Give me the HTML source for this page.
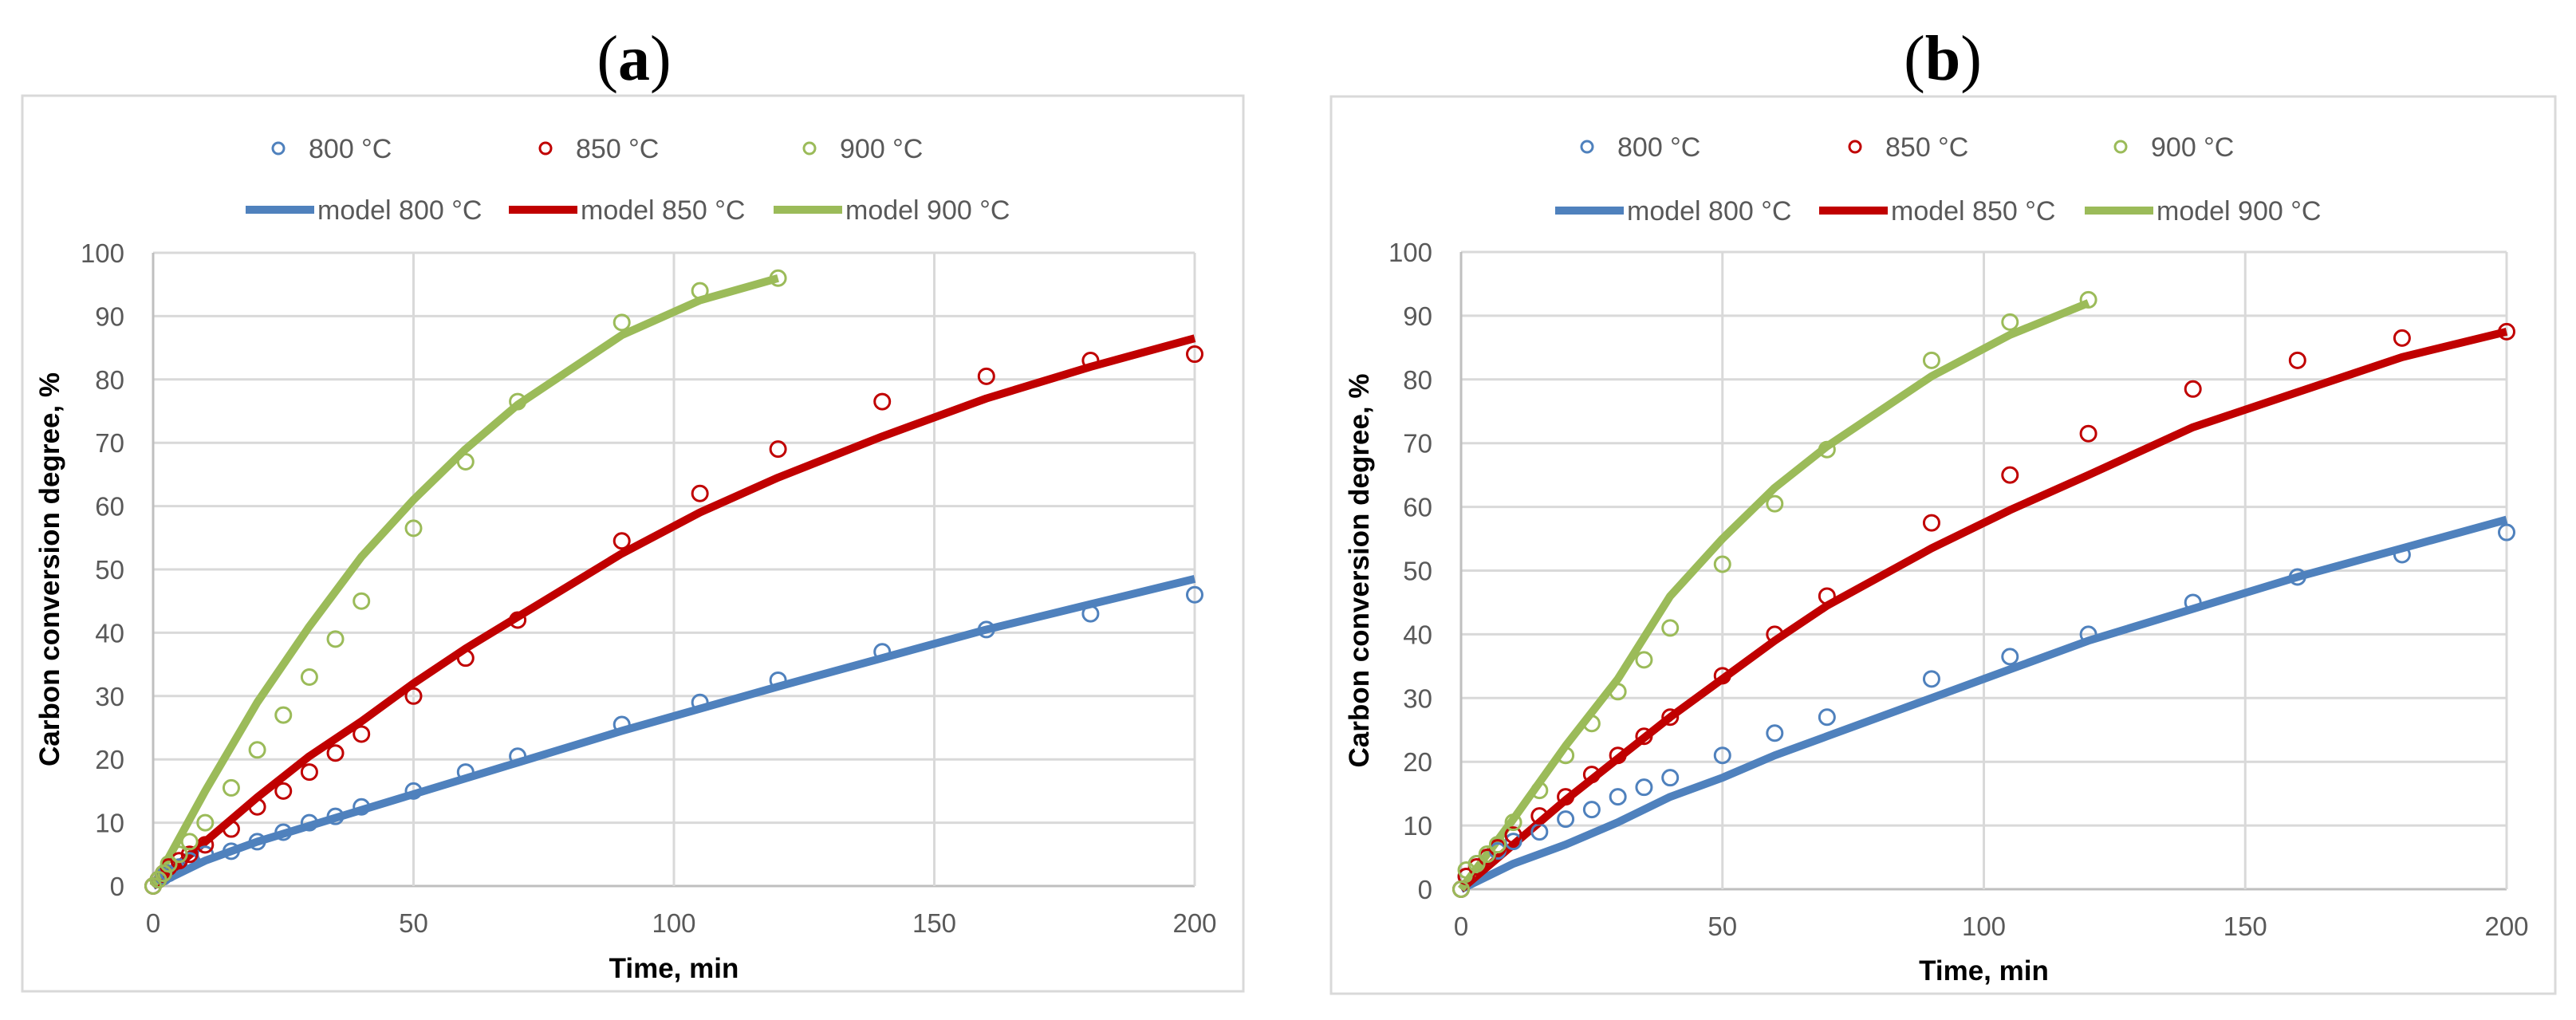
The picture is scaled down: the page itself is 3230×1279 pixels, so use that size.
<!DOCTYPE html>
<html><head><meta charset="utf-8"><style>
html,body{margin:0;padding:0;background:#fff;}
svg{display:block;}
text{font-family:"Liberation Sans",sans-serif;}
</style></head>
<body>
<svg id="chart" width="3230" height="1279" viewBox="0 0 3230 1279" xmlns="http://www.w3.org/2000/svg"></svg>
<script>
const xTicks = [0, 50, 100, 150, 200];
const yTicks = [0, 10, 20, 30, 40, 50, 60, 70, 80, 90, 100];
const seriesNames = ["800", "850", "900"];

// Panel (a) data
const aT800 = [0, 1, 2, 3, 5, 7, 10, 15, 20, 25, 30, 35, 40, 50, 60, 70, 90, 105, 120, 140, 160, 180, 200];
const aY800 = [0, 1, 1.5, 2, 3, 4, 5, 5.5, 7, 8.5, 10, 11, 12.5, 15, 18, 20.5, 25.5, 29, 32.5, 37, 40.5, 43, 46];
const aT850 = [0, 1, 2, 3, 5, 7, 10, 15, 20, 25, 30, 35, 40, 50, 60, 70, 90, 105, 120, 140, 160, 180, 200];
const aY850 = [0, 1, 2, 3, 4, 5, 6.5, 9, 12.5, 15, 18, 21, 24, 30, 36, 42, 54.5, 62, 69, 76.5, 80.5, 83, 84];
const aT900 = [0, 1, 2, 3, 5, 7, 10, 15, 20, 25, 30, 35, 40, 50, 60, 70, 90, 105, 120];
const aY900 = [0, 1, 2, 3.5, 5, 7, 10, 15.5, 21.5, 27, 33, 39, 45, 56.5, 67, 76.5, 89, 94, 96];
const aMT800 = [0, 5, 10, 20, 30, 40, 50, 60, 70, 90, 105, 120, 140, 160, 180, 200];
const aMY800 = [0, 2, 4, 7, 9.5, 12, 14.5, 17, 19.5, 24.5, 28, 31.5, 36, 40.5, 44.5, 48.5];
const aMT850 = [0, 5, 10, 20, 30, 40, 50, 60, 70, 90, 105, 120, 140, 160, 180, 200];
const aMY850 = [0, 3.5, 7, 14, 20.5, 26, 32, 37.5, 42.5, 52.5, 59, 64.5, 71, 77, 82, 86.5];
const aMT900 = [0, 5, 10, 20, 30, 40, 50, 60, 70, 90, 105, 120];
const aMY900 = [0, 7.5, 15, 29, 41, 52, 61, 69, 76, 87, 92.5, 96];

// Panel (b) data
const bT800 = [0, 1, 3, 5, 7, 10, 15, 20, 25, 30, 35, 40, 50, 60, 70, 90, 105, 120, 140, 160, 180, 200];
const bY800 = [0, 2, 4, 5, 6, 7.5, 9, 11, 12.5, 14.5, 16, 17.5, 21, 24.5, 27, 33, 36.5, 40, 45, 49, 52.5, 56];
const bT850 = [0, 1, 3, 5, 7, 10, 15, 20, 25, 30, 35, 40, 50, 60, 70, 90, 105, 120, 140, 160, 180, 200];
const bY850 = [0, 2, 3.5, 5, 6.5, 8.5, 11.5, 14.5, 18, 21, 24, 27, 33.5, 40, 46, 57.5, 65, 71.5, 78.5, 83, 86.5, 87.5];
const bT900 = [0, 1, 3, 5, 7, 10, 15, 20, 25, 30, 35, 40, 50, 60, 70, 90, 105, 120];
const bY900 = [0, 3, 4, 5.5, 7, 10.5, 15.5, 21, 26, 31, 36, 41, 51, 60.5, 69, 83, 89, 92.5];
const bMT800 = [0, 5, 10, 20, 30, 40, 50, 60, 70, 90, 105, 120, 140, 160, 180, 200];
const bMY800 = [0, 2, 4, 7, 10.5, 14.5, 17.5, 21, 24, 30, 34.5, 39, 44, 49, 53.5, 58];
const bMT850 = [0, 5, 10, 20, 30, 40, 50, 60, 70, 90, 105, 120, 140, 160, 180, 200];
const bMY850 = [0, 3.5, 7, 14, 20.5, 27, 33, 39, 44.5, 53.5, 59.5, 65, 72.5, 78, 83.5, 87.5];
const bMT900 = [0, 5, 10, 20, 30, 40, 50, 60, 70, 90, 105, 120];
const bMY900 = [0, 5.5, 11, 22.5, 33, 46, 55, 63, 69.5, 80.5, 87, 92];

const colors = ["#4F81BD", "#C00000", "#9BBB59"];
const NS = "http://www.w3.org/2000/svg";
const svg = document.getElementById("chart");

function mk(tag, attrs, parent, txt) {
  const e = document.createElementNS(NS, tag);
  for (const k in attrs) e.setAttribute(k, attrs[k]);
  if (txt !== undefined) e.textContent = txt;
  (parent || svg).appendChild(e);
  return e;
}

function panel(cfg, data) {
  const g = mk("g", {});
  
  
  const xs = v => cfg.x0 + (cfg.x1 - cfg.x0) * v / 200;
  const ys = v => cfg.y0 + (cfg.y1 - cfg.y0) * v / 100;

  const title = mk("text", {x: cfg.titleX, y: 100, "text-anchor": "middle", "font-size": 80, style: "font-family:'Liberation Serif',serif"}, g);
  
  
  mk("tspan", {}, title, "(");
  mk("tspan", {"font-weight": "bold"}, title, cfg.id);
  mk("tspan", {}, title, ")");

  const border = mk("rect", {x: cfg.bx0, y: cfg.by0, width: cfg.bx1 - cfg.bx0, height: cfg.by1 - cfg.by0, fill: "#fff", stroke: "#d9d9d9", "stroke-width": 3}, g);
  
  

  yTicks.forEach(v => {
    const l = mk("line", {x1: xs(0), x2: xs(200), y1: ys(v), y2: ys(v), stroke: v === 0 ? "#bfbfbf" : "#d9d9d9", "stroke-width": 3}, g);
    
    
    const t = mk("text", {x: xs(0) - 36, y: ys(v) + 12, "text-anchor": "end", "font-size": 33, fill: "#595959"}, g, String(v));
    
    
  });
  xTicks.forEach(v => {
    const l = mk("line", {x1: xs(v), x2: xs(v), y1: ys(0), y2: ys(100), stroke: v === 0 ? "#bfbfbf" : "#d9d9d9", "stroke-width": 3}, g);
    
    
    const t = mk("text", {x: xs(v), y: ys(0) + 58, "text-anchor": "middle", "font-size": 33, fill: "#595959"}, g, String(v));
    
    
  });

  const xt = mk("text", {x: (xs(0) + xs(200)) / 2, y: cfg.xTitleY, "text-anchor": "middle", "font-size": 35, "font-weight": "bold", fill: "#000"}, g, "Time, min");
  
  
  const ymid = (ys(0) + ys(100)) / 2;
  const yt = mk("text", {x: cfg.yTitleX, y: ymid, "text-anchor": "middle", "font-size": 35, "font-weight": "bold", fill: "#000", transform: `rotate(-90 ${cfg.yTitleX} ${ymid})`}, g, "Carbon conversion degree, %");
  
  

  data.models.forEach((m, i) => {
    const pts = m[0].map((t, k) => xs(t) + "," + ys(m[1][k])).join(" ");
    const pl = mk("polyline", {points: pts, fill: "none", stroke: colors[i], "stroke-width": 10, "stroke-linejoin": "round"}, g);
    
    
  });
  data.points.forEach((p, i) => {
    p[0].forEach((t, k) => {
      const c = mk("circle", {cx: xs(t), cy: ys(p[1][k]), r: 9.5, fill: "none", stroke: colors[i], "stroke-width": 3}, g);
      
      
    });
  });

  seriesNames.forEach((n, i) => {
    const c = mk("circle", {cx: cfg.legM[i], cy: cfg.legY1, r: 7, fill: "none", stroke: colors[i], "stroke-width": 3}, g);
    
    
    const t = mk("text", {x: cfg.legM[i] + 38, y: cfg.legY1 + 12, "font-size": 34, fill: "#595959"}, g, n + " \u00b0C");
    
    
    const l = mk("line", {x1: cfg.legL[i], x2: cfg.legL[i] + 86, y1: cfg.legY2, y2: cfg.legY2, stroke: colors[i], "stroke-width": 10}, g);
    
    
    const t2 = mk("text", {x: cfg.legL[i] + 90, y: cfg.legY2 + 12, "font-size": 34, fill: "#595959"}, g, "model " + n + " \u00b0C");
    
    
  });
}

panel({id: "a", x0: 192, x1: 1498, y0: 1111, y1: 317, bx0: 28, bx1: 1559, by0: 120, by1: 1243,
  titleX: 795, xTitleY: 1226, yTitleX: 74, legY1: 186, legY2: 263,
  legM: [349, 684, 1015], legL: [308, 638, 970]},
  {points: [[aT800, aY800], [aT850, aY850], [aT900, aY900]],
   models: [[aMT800, aMY800], [aMT850, aMY850], [aMT900, aMY900]]});

panel({id: "b", x0: 1832, x1: 3143, y0: 1115, y1: 316, bx0: 1669, bx1: 3204, by0: 121, by1: 1246,
  titleX: 2436, xTitleY: 1229, yTitleX: 1716, legY1: 184, legY2: 264,
  legM: [1990, 2326, 2659], legL: [1950, 2281, 2614]},
  {points: [[bT800, bY800], [bT850, bY850], [bT900, bY900]],
   models: [[bMT800, bMY800], [bMT850, bMY850], [bMT900, bMY900]]});
</script>
</body></html>
